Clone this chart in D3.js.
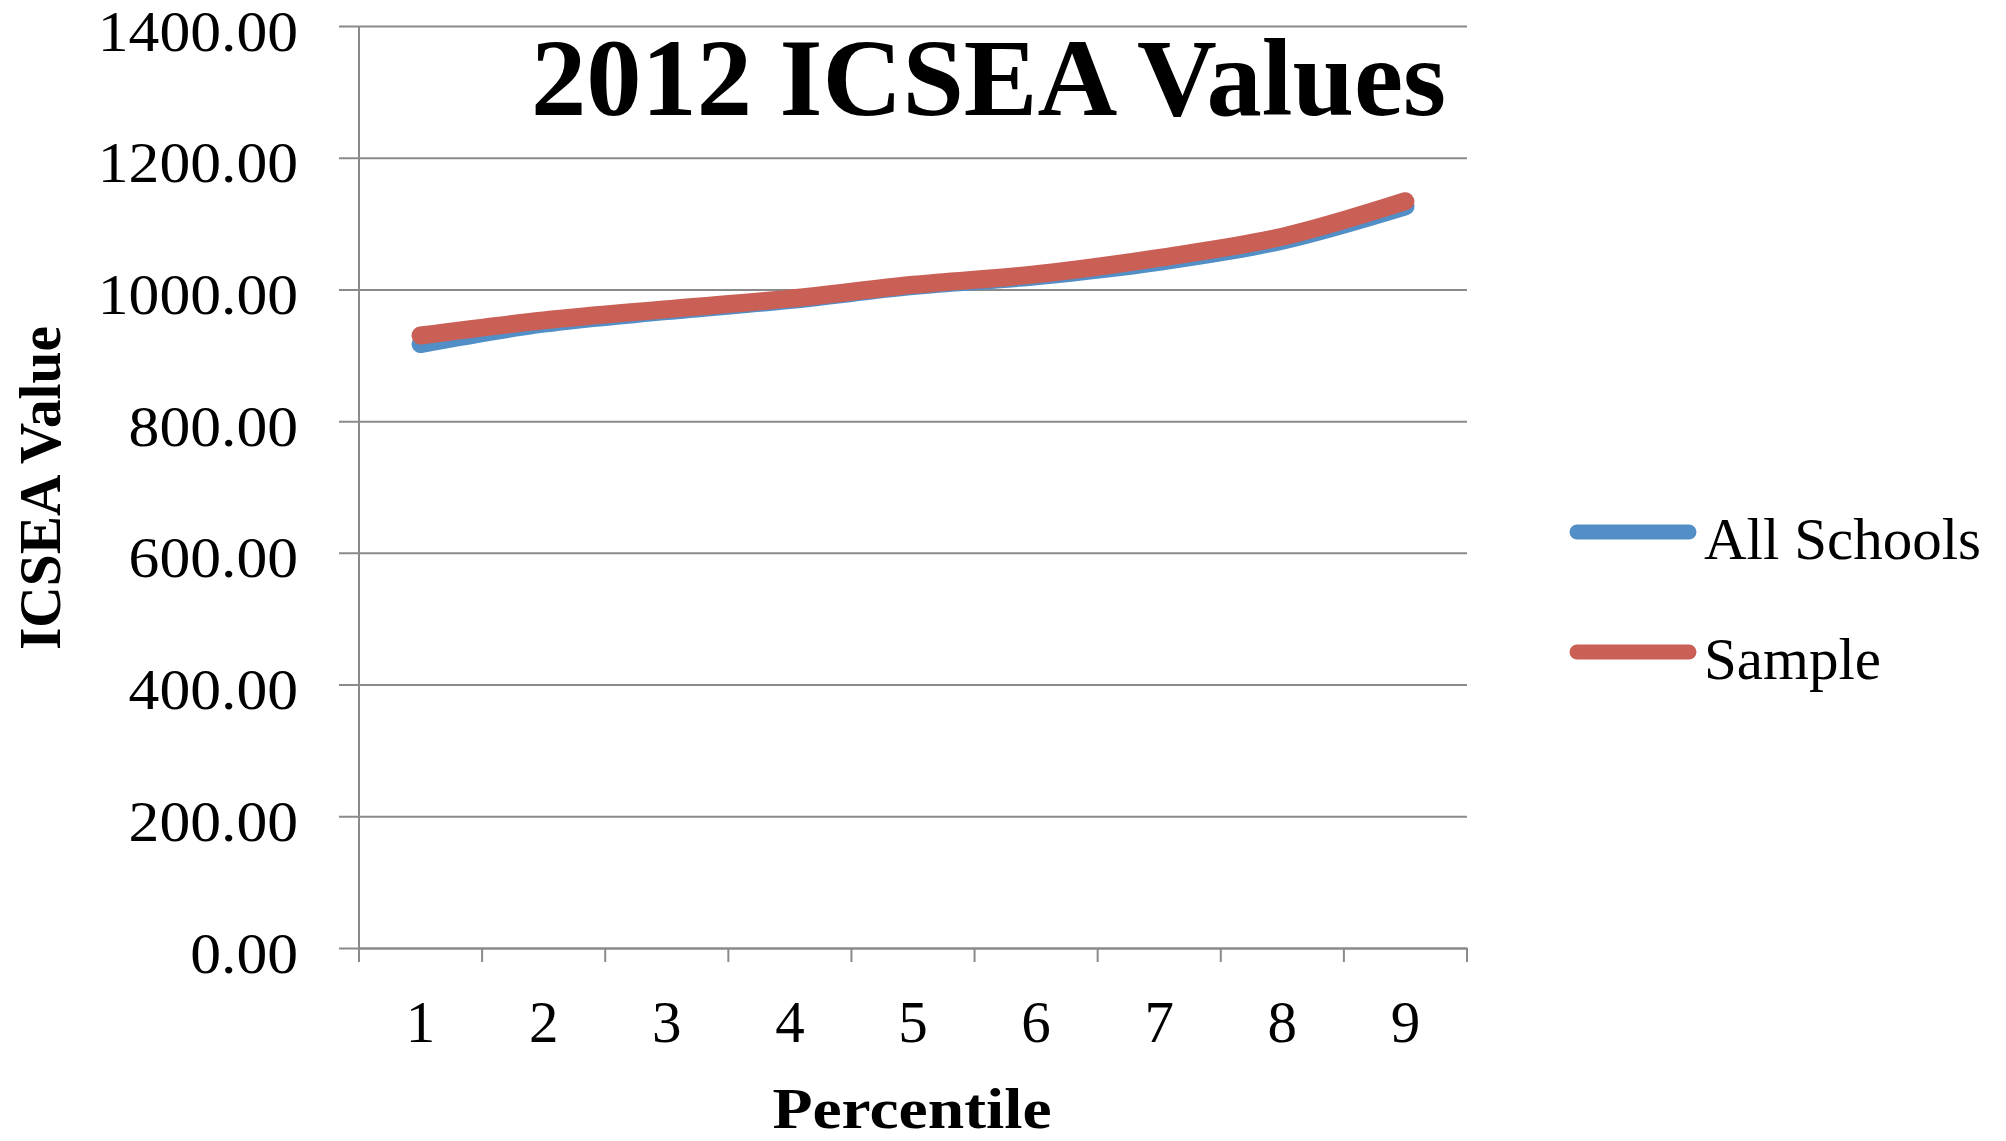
<!DOCTYPE html>
<html>
<head>
<meta charset="utf-8">
<script src="https://cdn.jsdelivr.net/npm/d3@7"></script>
<style>
  html, body { margin: 0; padding: 0; background: #ffffff; }
  svg { display: block; }
  text { font-family: "Liberation Serif", "DejaVu Serif", serif; fill: #000; }
</style>
</head>
<body>
<svg id="chart" width="2006" height="1141"></svg>
<script>
// ICSEA values by percentile
const percentiles = ["1", "2", "3", "4", "5", "6", "7", "8", "9"];
const allSchools = [917, 948, 967, 984, 1005, 1020, 1042, 1074, 1126];
const sample = [930, 953, 970, 986, 1007, 1023, 1048, 1080, 1134];
const yTicks = [0, 200, 400, 600, 800, 1000, 1200, 1400];
const seriesNames = ["All Schools", "Sample"];
const seriesColors = ["#528fc7", "#c95f55"];

const svg = d3.select("#chart");
const plot = { left: 359, right: 1467, top: 26, bottom: 948 };

const x = d3.scaleBand().domain(percentiles).range([plot.left, plot.right]).padding(0);
const y = d3.scaleLinear().domain([0, 1400]).range([plot.bottom, plot.top]);

const gridColor = "#8a8a8a";

// horizontal gridlines with short ticks to the left of the axis
const yAxis = d3.axisLeft(y)
  .tickValues(yTicks)
  .tickSize(-(plot.right - plot.left))
  .tickSizeOuter(0)
  .tickFormat(d => d3.format(".2f")(d))
  .tickPadding(61);
const gy = svg.append("g").attr("transform", `translate(${plot.left},0)`).call(yAxis);
gy.select(".domain").remove();
gy.selectAll(".tick line").attr("stroke", gridColor).attr("stroke-width", 2)
  .attr("x1", -20);
gy.selectAll(".tick text")
  .attr("font-size", 56)
  .attr("fill", "#000")
  .attr("dy", 24)
  .style("font-family", '"Liberation Serif", serif')
  .each(function () {
    // slightly wider figures for the value labels
    const w = this.getComputedTextLength();
    d3.select(this).attr("textLength", w * 1.1).attr("lengthAdjust", "spacingAndGlyphs");
  });

// vertical axis line
svg.append("line")
  .attr("x1", plot.left).attr("x2", plot.left)
  .attr("y1", plot.top).attr("y2", plot.bottom)
  .attr("stroke", gridColor).attr("stroke-width", 2);

// category axis: ticks sit on the band boundaries
const xAxis = d3.axisBottom(x).tickSize(0).tickSizeOuter(0).tickPadding(52);
const gx = svg.append("g").attr("transform", `translate(0,${plot.bottom})`).call(xAxis);
gx.select(".domain").attr("stroke", gridColor).attr("stroke-width", 2);
gx.selectAll(".tick text")
  .attr("font-size", 59)
  .attr("fill", "#000")
  .style("font-family", '"Liberation Serif", serif');

const boundaries = percentiles.map(p => x(p)).concat([x(percentiles[percentiles.length - 1]) + x.bandwidth()]);
svg.append("g").selectAll("line").data(boundaries).join("line")
  .attr("x1", d => d).attr("x2", d => d)
  .attr("y1", plot.bottom).attr("y2", plot.bottom + 14)
  .attr("stroke", gridColor).attr("stroke-width", 2);

// smoothed series lines
const line = d3.line()
  .x((d, i) => x(percentiles[i]) + x.bandwidth() / 2)
  .y(d => y(d))
  .curve(d3.curveCatmullRom.alpha(0));

[allSchools, sample].forEach((vals, k) => {
  svg.append("path")
    .datum(vals)
    .attr("d", line)
    .attr("fill", "none")
    .attr("stroke", seriesColors[k])
    .attr("stroke-width", 18)
    .attr("stroke-linecap", "round")
    .attr("stroke-linejoin", "round");
});

// title
svg.append("text")
  .attr("x", 1446).attr("y", 115)
  .attr("text-anchor", "end")
  .attr("font-size", 110)
  .attr("font-weight", "bold")
  .attr("textLength", 915)
  .attr("lengthAdjust", "spacingAndGlyphs")
  .text("2012 ICSEA Values");

// axis titles
svg.append("text")
  .attr("transform", "translate(60,488) rotate(-90)")
  .attr("text-anchor", "middle")
  .attr("font-size", 60)
  .attr("font-weight", "bold")
  .attr("textLength", 324)
  .attr("lengthAdjust", "spacingAndGlyphs")
  .text("ICSEA Value");

svg.append("text")
  .attr("x", 912).attr("y", 1128)
  .attr("text-anchor", "middle")
  .attr("font-size", 58)
  .attr("font-weight", "bold")
  .attr("textLength", 279)
  .attr("lengthAdjust", "spacingAndGlyphs")
  .text("Percentile");

// legend
const legendY = [532, 652];
const legend = svg.append("g");
seriesNames.forEach((name, k) => {
  legend.append("line")
    .attr("x1", 1577).attr("x2", 1689)
    .attr("y1", legendY[k]).attr("y2", legendY[k])
    .attr("stroke", seriesColors[k])
    .attr("stroke-width", 15)
    .attr("stroke-linecap", "round");
  legend.append("text")
    .attr("x", 1704).attr("y", legendY[k] + 27)
    .attr("font-size", 59)
    .text(name);
});
</script>
</body>
</html>
